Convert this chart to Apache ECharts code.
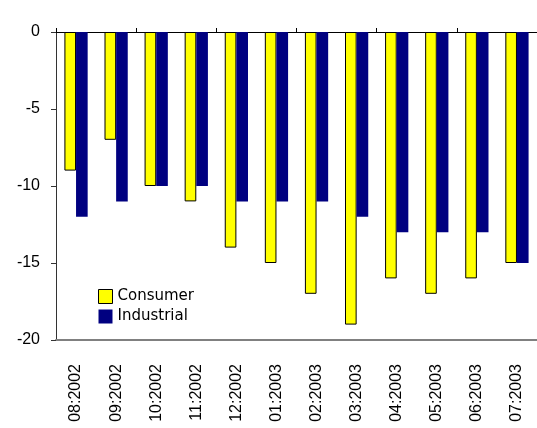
<!DOCTYPE html>
<html>
<head>
<meta charset="utf-8">
<script src="https://cdn.jsdelivr.net/npm/echarts@6/dist/echarts.min.js"></script>
<style>
    html, body { margin: 0; padding: 0; background: #fff; }
    #chart { width: 537px; height: 428px; }
</style>
</head>
<body>
<div id="chart"></div>
<script>
var months = ['08:2002', '09:2002', '10:2002', '11:2002', '12:2002', '01:2003',
    '02:2003', '03:2003', '04:2003', '05:2003', '06:2003', '07:2003'];
var consumer = [-9, -7, -10, -11, -14, -15, -17, -19, -16, -17, -16, -15];
var industrial = [-12, -11, -10, -10, -11, -11, -11, -12, -13, -13, -13, -15];
var yTicks = [0, -5, -10, -15, -20];

var myChart = echarts.init(document.getElementById('chart'));
var option = {
    animation: false,
    grid: {
        left: 56,
        right: 0,
        top: 32,
        bottom: 88
    },
    legend: {
        orient: 'vertical',
        left: 93,
        top: 284,
        itemWidth: 14,
        itemHeight: 14,
        itemGap: 5,
        textStyle: {
            fontFamily: 'DejaVu Sans',
            fontSize: 15,
            lineHeight: 14,
            color: '#000'
        },
        data: [{
            name: 'Consumer',
            icon: 'rect',
            itemStyle: { borderWidth: 1, borderColor: '#000' }
        }, {
            name: 'Industrial',
            icon: 'rect'
        }]
    },
    xAxis: [{
        // line at zero, ticks pointing up
        type: 'category',
        position: 'top',
        data: months,
        axisLine: {
            lineStyle: { color: '#000', width: 1 }
        },
        axisTick: {
            show: true,
            length: 4,
            lineStyle: { color: '#000' }
        },
        axisLabel: { show: false }
    }, {
        type: 'category',
        position: 'bottom',
        data: months,
        axisLine: {
            lineStyle: { color: '#808080', width: 2 }
        },
        axisTick: { show: false },
        axisLabel: {
            rotate: 90,
            margin: 24,
            fontFamily: 'Liberation Sans',
            fontSize: 16,
            color: '#000'
        }
    }],
    yAxis: [{
        type: 'value',
        min: -20,
        max: 0,
        interval: 5,
        splitLine: { show: false },
        axisLine: {
            show: true,
            lineStyle: { color: '#333', width: 1 }
        },
        axisTick: {
            show: true,
            length: 5,
            lineStyle: { color: '#333' }
        },
        axisLabel: {
            margin: 16,
            fontFamily: 'Liberation Sans',
            fontSize: 16,
            color: '#000',
            formatter: function (v) {
                return yTicks.indexOf(v) >= 0 ? String(v) : '';
            }
        }
    }],
    series: [{
        name: 'Consumer',
        type: 'bar',
        xAxisIndex: 0,
        barGap: '0%',
        barCategoryGap: '42%',
        itemStyle: {
            color: '#ffff00',
            borderColor: '#000',
            borderWidth: 1
        },
        data: consumer
    }, {
        name: 'Industrial',
        type: 'bar',
        xAxisIndex: 0,
        barGap: '0%',
        barCategoryGap: '42%',
        itemStyle: {
            color: '#000080'
        },
        data: industrial
    }]
};
myChart.setOption(option);
</script>
</body>
</html>
